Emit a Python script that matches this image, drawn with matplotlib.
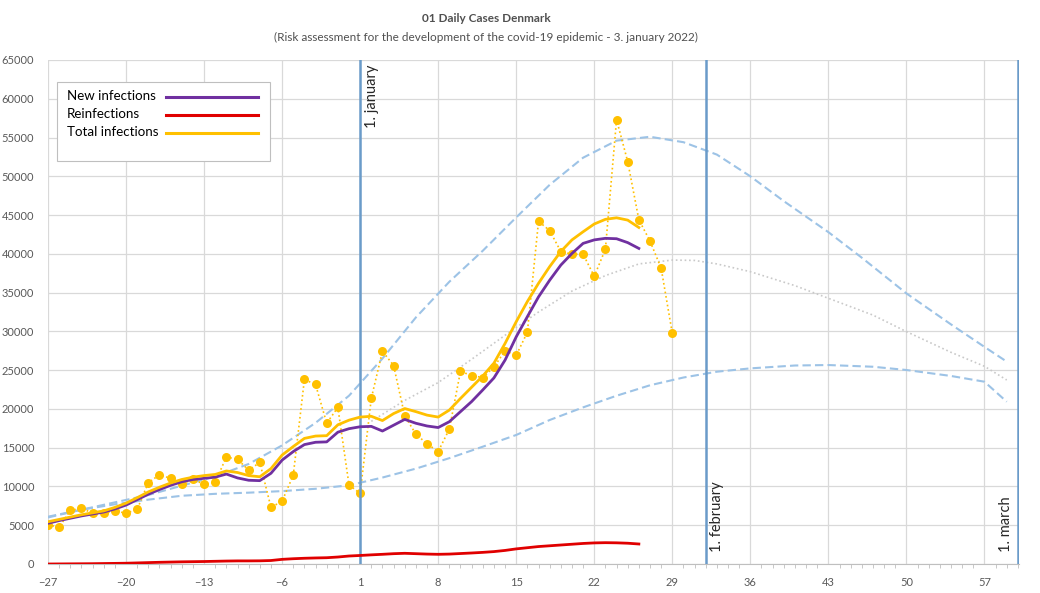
import numpy as np
import matplotlib
matplotlib.use("Agg")
import matplotlib.pyplot as plt
from matplotlib.patches import Rectangle
from matplotlib.ticker import MultipleLocator

plt.rcParams['font.family'] = ['Lato', 'DejaVu Sans']

# daily total infections (dots)
days_obs = list(range(-27, 30))
total_daily = [5050, 4750, 6900, 7200, 6550, 6600, 6850, 6550, 7050, 10500,
               11500, 11050, 10350, 10900, 10300, 10550, 13800, 13500, 12100, 13100,
               7300, 8100, 11450, 23800, 23150, 18150, 20200, 10200, 9100, 21350,
               27450, 25600, 19100, 16750, 15500, 14500, 17400, 24850, 24300, 24050,
               25400, 27500, 26900, 29900, 44200, 43000, 40300, 39950, 39950, 37100,
               40600, 57300, 51900, 44400, 41650, 38150, 29750]

# smoothed averages
days_avg = list(range(-27, 27))
new_inf = [5250, 5600, 5900, 6200, 6450, 6700, 7100, 7600, 8300, 9000,
           9600, 10150, 10600, 10900, 11050, 11200, 11600, 11100, 10800, 10750,
           11700, 13400, 14500, 15400, 15700, 15750, 17000, 17450, 17700, 17750,
           17150, 17900, 18650, 18150, 17800, 17600, 18350, 19650, 20950, 22450,
           24000, 26300, 29300, 31900, 34450, 36600, 38550, 40050, 41350, 41800,
           42000, 41950, 41450, 40700]
total_inf = [5450, 5750, 6050, 6350, 6600, 6850, 7300, 7850, 8550, 9300,
             9900, 10450, 10900, 11200, 11400, 11550, 12000, 11800, 11400, 11250,
             12300, 14050, 15150, 16200, 16500, 16550, 17950, 18550, 18950, 19050,
             18500, 19400, 20050, 19650, 19200, 18950, 19850, 21350, 22800, 24250,
             25900, 28450, 31250, 33850, 36200, 38350, 40300, 41800, 42850, 43850,
             44450, 44650, 44350, 43400]
reinf = [0, 10, 20, 30, 40, 60, 80, 100, 140, 180,
         220, 250, 280, 300, 320, 350, 380, 400, 400, 410,
         450, 600, 680, 740, 780, 810, 900, 1030, 1100, 1180,
         1250, 1330, 1380, 1330, 1280, 1250, 1280, 1350, 1420, 1500,
         1600, 1750, 1950, 2100, 2250, 2350, 2450, 2550, 2650, 2720,
         2750, 2730, 2680, 2580]

# projections
days_hi = [-27, -24, -21, -18, -15, -12, -9, -6, -3, 0, 3, 6, 9, 12, 15, 18, 21, 24,
           27, 30, 33, 36, 39, 43, 46, 50, 54, 57, 59]
proj_hi = [6100, 7000, 7950, 8900, 10100, 11300, 12900, 15300, 18200, 21700, 26500,
           31800, 36400, 40400, 44700, 48900, 52400, 54600, 55100, 54400, 52800,
           50000, 46800, 42800, 39500, 34900, 30900, 28000, 26100]
days_lo = [-27, -24, -21, -18, -15, -12, -9, -6, -3, 0, 3, 6, 9, 12, 15, 18, 21, 24,
           27, 30, 33, 36, 40, 43, 47, 50, 54, 57, 59]
proj_lo = [6000, 7000, 7700, 8300, 8800, 9050, 9200, 9400, 9700, 10150, 11150, 12300,
           13650, 15130, 16640, 18570, 20200, 21700, 23050, 24050, 24800, 25230,
           25600, 25660, 25440, 25020, 24250, 23510, 20930]
days_mid = [2, 5, 8, 11, 14, 17, 20, 23, 26, 29, 31, 33, 36, 40, 43, 47, 50, 54, 57, 59]
proj_mid = [18400, 21100, 23400, 26400, 29500, 32500, 35200, 37200, 38700, 39200,
            39150, 38700, 37700, 35900, 34270, 32100, 29970, 27300, 25500, 23730]

month_days = [1, 32, 60]
month_labels = ['1. january', '1. february', '1. march']

legend_labels = ['New infections', 'Reinfections', 'Total infections']
legend_colors = ['#7030A0', '#E00000', '#FFC000']

fig = plt.figure(figsize=(10.4, 5.93), dpi=100)
ax = fig.add_axes([48 / 1040, 29 / 593, 971 / 1040, 504 / 593])

ax.plot(days_hi, proj_hi, color='#9DC3E6', lw=1.5, dashes=(4, 2), zorder=2)
ax.plot(days_lo, proj_lo, color='#9DC3E6', lw=1.5, dashes=(4, 2), zorder=2)
ax.plot(days_mid, proj_mid, color='#C9C9C9', lw=1.2, ls=':', zorder=2)

ax.plot(days_obs, total_daily, color='#FFC000', lw=1.2, ls=':', marker='o',
        ms=6.5, markeredgewidth=0, zorder=3)
ax.plot(days_avg, new_inf, color=legend_colors[0], lw=2, zorder=4)
ax.plot(days_avg, reinf, color=legend_colors[1], lw=2, zorder=4)
ax.plot(days_avg, total_inf, color=legend_colors[2], lw=2, zorder=4)

for d in month_days:
    ax.axvline(d, color='#6A9BC9', lw=1.8, zorder=3)
ax.text(1.4, 64400, month_labels[0], rotation=90, ha='left', va='top', fontsize=10.5, color='#262626')
ax.text(32.4, 1500, month_labels[1], rotation=90, ha='left', va='bottom', fontsize=10.5, color='#262626')
ax.text(59.6, 1500, month_labels[2], rotation=90, ha='right', va='bottom', fontsize=10.5, color='#262626')

ax.set_xlim(-27, 60.1)
ax.set_ylim(0, 65000)
ax.set_xticks(np.arange(-27, 60, 7))
ax.xaxis.set_minor_locator(MultipleLocator(1))
ax.set_yticks(np.arange(0, 65001, 5000))
ax.grid(True, which='major', color='#D9D9D9', lw=0.9, zorder=0)
ax.set_axisbelow(True)
for s in ['top', 'right', 'left']:
    ax.spines[s].set_visible(False)
ax.spines['bottom'].set_color('#BFBFBF')
ax.tick_params(axis='y', length=0, pad=10, labelsize=8, colors='#595959')
ax.tick_params(axis='x', which='major', length=0, pad=9, labelsize=8, colors='#595959')
ax.tick_params(axis='x', which='minor', length=3, color='#BFBFBF')

# legend box drawn by hand (labels left, line samples right)
ax.add_patch(Rectangle((0.0093, 0.7996), 0.2193, 0.1567, transform=ax.transAxes,
                       facecolor='white', edgecolor='#BFBFBF', lw=0.8, zorder=6))
row_y = [0.9286, 0.8929, 0.8571]
for lab, col, yy in zip(legend_labels, legend_colors, row_y):
    ax.text(0.0196, yy, lab, transform=ax.transAxes, ha='left', va='center',
            fontsize=9.6, color='black', zorder=7)
    ax.plot([0.1215, 0.2163], [yy - 0.002, yy - 0.002], transform=ax.transAxes,
            color=col, lw=2.2, zorder=7)

fig.text(486 / 1040, 1 - 18 / 593, '01 Daily Cases Denmark', ha='center', va='center',
         fontsize=8.5, fontweight='bold', color='#505050')
fig.text(486 / 1040, 1 - 37 / 593,
         '(Risk assessment for the development of the covid-19 epidemic - 3. january 2022)',
         ha='center', va='center', fontsize=8.5, color='#505050')

fig.savefig('out.png', dpi=100)
